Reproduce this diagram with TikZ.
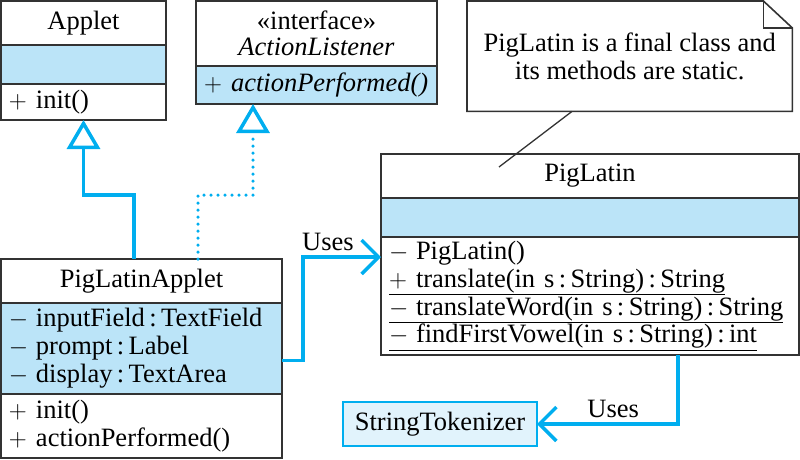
\documentclass[tikz,border=0pt]{standalone}
\usepackage{fontspec}
\setmainfont{Liberation Serif}
\usetikzlibrary{arrows.meta}
\definecolor{umlblue}{RGB}{0,174,239}
\definecolor{umlfill}{RGB}{187,228,248}
\definecolor{tokfill}{RGB}{225,243,252}
\definecolor{umlline}{RGB}{51,51,51}
\newcommand{\umlsign}[1]{\makebox[27pt][l]{$#1$}}
\begin{document}
\begin{tikzpicture}[x=1pt,y=-1pt,font=\fontsize{26.5}{28}\selectfont]
  \tikzstyle{comp}=[rectangle,draw=umlline,line width=1.6pt,anchor=north west,inner sep=0pt,outer sep=0pt]
  \tikzstyle{members}=[comp,align=left,inner xsep=8pt]
  \tikzstyle{assoc}=[umlblue,line width=3.5pt,-{Straight Barb[length=17pt,width=34pt]}]
  \tikzstyle{inherit}=[umlblue,line width=3.5pt,-{Triangle[open,length=29pt,width=33pt]}]
  \tikzstyle{label}=[text=black,above=1pt]
  \useasboundingbox (0,0) rectangle (800,459);

  % Applet
  \node[comp,minimum width=165,minimum height=44] (A_name) at (1,1) {Applet};
  \node[comp,fill=umlfill,minimum width=165,minimum height=39] (A_attr) at (1,45) {};
  \node[members,text width=149,minimum height=36] (A_ops) at (1,84) {\umlsign{+}init()};

  % ActionListener
  \node[comp,align=center,minimum width=241,minimum height=65,font=\fontsize{26.5}{26}\selectfont] (I_name) at (196,1) {«interface»\\\textit{ActionListener}};
  \node[members,fill=umlfill,text width=225,minimum height=38] (I_ops) at (196,66) {\umlsign{+}\textit{actionPerformed()}};

  % PigLatinApplet
  \node[comp,minimum width=281,minimum height=44] (PA_name) at (1,259) {PigLatinApplet};
  \node[members,fill=umlfill,text width=265,minimum height=91] (PA_attr) at (1,303) {\umlsign{-}inputField\,:\,TextField\\\umlsign{-}prompt\,:\,Label\\\umlsign{-}display\,:\,TextArea};
  \node[members,text width=265,minimum height=64] (PA_ops) at (1,394) {\umlsign{+}init()\\\umlsign{+}actionPerformed()};

  % PigLatin
  \node[comp,minimum width=418,minimum height=44] (P_name) at (381,154) {PigLatin};
  \node[comp,fill=umlfill,minimum width=418,minimum height=39] (P_attr) at (381,198) {};
  \node[members,text width=402,minimum height=118,font=\fontsize{26.5}{27.7}\selectfont] (P_ops) at (381,237) {\umlsign{-}PigLatin()\\\underline{\umlsign{+}translate(in s\,:\,String)\,:\,String}\\\underline{\umlsign{-}translateWord(in s\,:\,String)\,:\,String}\\\underline{\umlsign{-}findFirstVowel(in s\,:\,String)\,:\,int}};

  % StringTokenizer
  \node[comp,draw=umlblue,line width=1.6pt,fill=tokfill,minimum width=194,minimum height=44] (S) at (343,402) {StringTokenizer};

  % note
  \node[anchor=north west,align=center,inner sep=0pt,minimum width=325,minimum height=110] (N) at (467,1) {PigLatin is a final class and\\its methods are static.};
  \draw[umlline,line width=1.6pt,line join=miter] (N.north west) -- ([xshift=-29pt]N.north east) -- ([yshift=-27pt]N.north east) -- (N.south east) -- (N.south west) -- cycle;
  \draw[umlline,line width=1.6pt] ([xshift=-29pt]N.north east) -- ([xshift=-29pt,yshift=-27pt]N.north east) -- ([yshift=-27pt]N.north east);
  \coordinate (N_pin) at (499,167);
  \draw[umlline,line width=1.3pt] ([xshift=105pt]N.south west) -- (N_pin);

  % connectors
  \draw[inherit] ([xshift=133pt]PA_name.north west) -- ++(0pt,64pt) -| (A_ops.south);
  \draw[inherit,dash pattern=on 0pt off 7pt,line cap=round] ([xshift=197pt]PA_name.north west) -- ++(0pt,64pt) -| ([xshift=57pt]I_ops.south west);
  \draw[assoc] ([yshift=-12pt]PA_attr.east) -- ++(21pt,0pt) |- node[label,pos=0.66] {Uses} ([yshift=-20pt]P_ops.north west);
  \draw[assoc] ([xshift=297pt]P_ops.south west) |- node[label,pos=0.73] {Uses} (S.east);
\end{tikzpicture}
\end{document}
